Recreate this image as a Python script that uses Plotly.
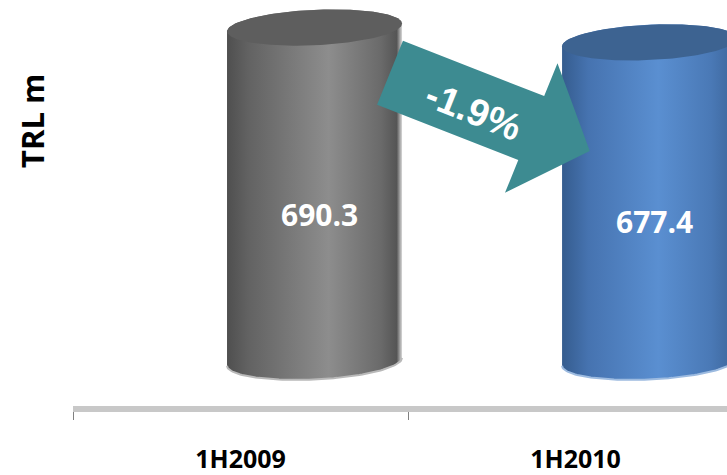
import numpy as np
import plotly.graph_objects as go

# Half-year revenue, TRL million
periods = ["1H2009", "1H2010"]
revenue = [690.3, 677.4]
unit_label = "TRL m"
axis_floor = 400  # value axis starts here

# ---- canvas / axes geometry ----
W, H = 727, 475
M_L, M_R, M_T, M_B = 73, 0, 0, 62
X_RANGE = [-0.5, 1.452]
Y_RANGE = [361.58, 714.21]
PLOT_W = W - M_L - M_R
PLOT_H = H - M_T - M_B
XU = (X_RANGE[1] - X_RANGE[0]) / PLOT_W   # x data units per pixel
YU = (Y_RANGE[1] - Y_RANGE[0]) / PLOT_H   # y data units per pixel


def x_of(px):
    return X_RANGE[0] + (px - M_L) * XU


def y_of(py):
    return Y_RANGE[1] - (py - M_T) * YU


# cylinder look (pixels)
CYL_SHIFT = 74 * XU      # 3-D depth offset of the bar from its category
CYL_A = 87.5 * XU        # half width
CYL_B = 18 * YU          # half height of the end ellipses
CYL_T = 4 * YU           # tilt of the end ellipses (right side higher)

styles = [
    dict(body=[[0, "#4f4f4f"], [0.12, "#626262"], [0.58, "#8d8d8d"],
               [0.88, "#6a6a6a"], [0.97, "#555555"], [1, "#d8d8d8"]],
         top="#5e5e5e", rim="#b9b9b9"),
    dict(body=[[0, "#355c8e"], [0.15, "#4673b0"], [0.55, "#5a8fd1"],
               [0.85, "#4a79b6"], [1, "#3b6499"]],
         top="#3d6391", rim="#9dbbe0"),
]


def ell(cx, cy, t):
    return cx + CYL_A * np.cos(t), cy + CYL_B * np.sin(t) + CYL_T * np.cos(t)


fig = go.Figure()

for i, (val, st) in enumerate(zip(revenue, styles)):
    cx = i + CYL_SHIFT
    # front surface: lower half of the base ellipse + upper half of the top ellipse
    tb = np.linspace(np.pi, 2 * np.pi, 80)
    tt = np.linspace(0, np.pi, 80)
    bx, by = ell(cx, axis_floor, tb)
    tx, ty = ell(cx, val, tt)
    xs = np.concatenate([bx, tx, bx[:1]])
    ys = np.concatenate([by, ty, by[:1]])
    fig.add_trace(go.Scatter(
        x=xs, y=ys, mode="lines", fill="toself", line=dict(width=0),
        fillgradient=dict(type="horizontal", colorscale=st["body"]),
        hoverinfo="skip", showlegend=False))
    # light rim along the base
    fig.add_trace(go.Scatter(
        x=bx, y=by, mode="lines", line=dict(color=st["rim"], width=2),
        hoverinfo="skip", showlegend=False))
    # top cap
    tc = np.linspace(0, 2 * np.pi, 160)
    cxs, cys = ell(cx, val, tc)
    fig.add_trace(go.Scatter(
        x=cxs, y=cys, mode="lines", fill="toself", fillcolor=st["top"],
        line=dict(width=0), hoverinfo="skip", showlegend=False))

# ---- change arrow between the two periods ----
phi = np.deg2rad(21.7)
d = np.array([np.cos(phi), np.sin(phi)])      # screen direction (y down)
n = np.array([-np.sin(phi), np.cos(phi)])
p0 = np.array([390.0, 74.0])
SHAFT, HALF_W, HEAD_LEN, HEAD_W = 152, 35, 63, 71
pts = [p0 - HALF_W * n, p0 + HALF_W * n,
       p0 + SHAFT * d + HALF_W * n, p0 + SHAFT * d + HEAD_W * n,
       p0 + (SHAFT + HEAD_LEN) * d,
       p0 + SHAFT * d - HEAD_W * n, p0 + SHAFT * d - HALF_W * n,
       p0 - HALF_W * n]
fig.add_trace(go.Scatter(
    x=[x_of(p[0]) for p in pts], y=[y_of(p[1]) for p in pts],
    mode="lines", fill="toself", fillcolor="#3d8b91", line=dict(width=0),
    hoverinfo="skip", showlegend=False))

change = (revenue[1] - revenue[0]) / revenue[0] * 100
tp = p0 + 92 * d + 5 * n
annotations = [dict(
    x=x_of(tp[0]), y=y_of(tp[1]), xref="x", yref="y", showarrow=False,
    xanchor="center", yanchor="middle",
    text=f"{change:.1f}%", textangle=21.7,
    font=dict(family="Liberation Sans", size=38, color="white", weight="bold"))]

# value labels inside the cylinders
for i, val in enumerate(revenue):
    annotations.append(dict(
        x=i + CYL_SHIFT + 5 * XU, y=axis_floor + 0.44 * (val - axis_floor),
        xref="x", yref="y", showarrow=False, xanchor="center", yanchor="middle",
        text=f"{val:.1f}",
        font=dict(family="Open Sans", size=30, color="white", weight="bold")))

# unit title
annotations.append(dict(
    x=(32 - M_L) / PLOT_W, y=1 - (123 - M_T) / PLOT_H, xref="paper", yref="paper",
    xanchor="center", yanchor="middle",
    showarrow=False, text=unit_label, textangle=-90,
    font=dict(family="Open Sans", size=31, color="black", weight="bold")))

fig.update_layout(
    width=W, height=H,
    margin=dict(l=M_L, r=M_R, t=M_T, b=M_B, pad=0),
    paper_bgcolor="white", plot_bgcolor="white",
    annotations=annotations,
    xaxis=dict(
        range=X_RANGE, showgrid=False, zeroline=False,
        showline=True, linecolor="#c8c8c8", linewidth=6,
        tickmode="array", tickvals=list(range(len(periods))), ticktext=periods,
        ticks="", ticklabelstandoff=26,
        tickfont=dict(family="Open Sans", size=25, color="black", weight="bold"),
        minor=dict(tickmode="array", tickvals=[-0.5, 0.5], ticks="outside",
                   ticklen=8, tickwidth=1, tickcolor="#808080"),
    ),
    yaxis=dict(range=Y_RANGE, visible=False, showgrid=False, zeroline=False),
    showlegend=False,
)

fig.write_html("out.html")
